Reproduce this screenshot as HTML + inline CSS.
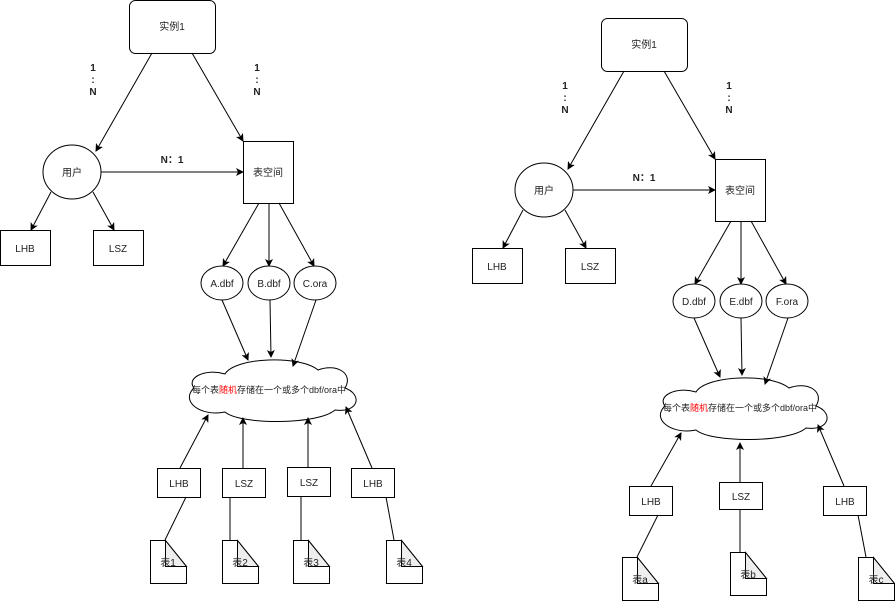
<!DOCTYPE html>
<html><head><meta charset="utf-8"><style>
html,body{margin:0;padding:0;background:#fff;}
svg{display:block;}
text{font-family:"Liberation Sans","Noto Sans CJK SC",sans-serif;font-size:10px;fill:#222;}
.b{font-weight:bold;font-size:10px;}
.c{font-size:9px;}
</style></head><body>
<svg width="895" height="603" viewBox="0 0 895 603" xmlns="http://www.w3.org/2000/svg">
<defs>
<marker id="a" markerWidth="8" markerHeight="8" refX="7" refY="4" orient="auto" markerUnits="userSpaceOnUse">
<path d="M0,0 L8,4 L0,8 L2,4 Z" fill="#000"/></marker>
<g id="top" fill="none" stroke="#000" stroke-width="1">
<rect x="129.5" y="0.5" width="86" height="53" rx="6" fill="#fff"/>
<line x1="152" y1="53" x2="96" y2="151" marker-end="url(#a)"/>
<line x1="192" y1="53" x2="243" y2="141" marker-end="url(#a)"/>
<ellipse cx="72" cy="172" rx="29" ry="27" fill="#fff"/>
<rect x="243.5" y="141.5" width="50" height="62" fill="#fff"/>
<line x1="101" y1="172" x2="243" y2="172" marker-end="url(#a)"/>
<rect x="0.5" y="230.5" width="50" height="35" fill="#fff"/>
<rect x="93.5" y="230.5" width="50" height="35" fill="#fff"/>
<line x1="51" y1="192" x2="31" y2="230" marker-end="url(#a)"/>
<line x1="93" y1="192" x2="114" y2="230" marker-end="url(#a)"/>
<line x1="259" y1="203" x2="223" y2="266" marker-end="url(#a)"/>
<line x1="269" y1="203" x2="269" y2="266" marker-end="url(#a)"/>
<line x1="279" y1="203" x2="314" y2="266" marker-end="url(#a)"/>
<ellipse cx="222" cy="283" rx="21" ry="17" fill="#fff"/>
<ellipse cx="269" cy="283" rx="21" ry="17" fill="#fff"/>
<ellipse cx="315" cy="283" rx="21" ry="17" fill="#fff"/>
</g>
<g id="toptext">
<text x="172" y="30" text-anchor="middle">实例1</text>
<text class="b" x="93" y="71" text-anchor="middle">1</text>
<text class="b" x="93" y="83" text-anchor="middle">:</text>
<text class="b" x="93" y="95" text-anchor="middle">N</text>
<text class="b" x="257" y="71" text-anchor="middle">1</text>
<text class="b" x="257" y="83" text-anchor="middle">:</text>
<text class="b" x="257" y="95" text-anchor="middle">N</text>
<text class="b" x="172" y="163" text-anchor="middle">N：1</text>
<text x="72" y="176" text-anchor="middle">用户</text>
<text x="268" y="176" text-anchor="middle">表空间</text>
<text x="25" y="252" text-anchor="middle">LHB</text>
<text x="118" y="252" text-anchor="middle">LSZ</text>
</g>
<path id="cloud" d="M194,388 C186,378 205,368 225,374 C235,357 300,355 318,370 C336,363 354,373 345,388 C362,394 360,413 335,410 C318,425 240,425 225,412 C200,417 180,401 194,388 Z" fill="#fff" stroke="#000"/>
<g id="note">
<path d="M0.5,0.5 L15.5,0.5 L36.5,26.5 L36.5,43.5 L0.5,43.5 Z" fill="#fff" stroke="#000"/>
<path d="M15.5,0.5 L15.5,26.5 L36.5,26.5 Z" fill="#eee" stroke="#000"/>
</g>
</defs>

<!-- LEFT -->
<use href="#top"/>
<use href="#toptext"/>
<text x="222" y="287" text-anchor="middle">A.dbf</text>
<text x="269" y="287" text-anchor="middle">B.dbf</text>
<text x="315" y="287" text-anchor="middle">C.ora</text>
<use href="#cloud"/>
<g fill="none" stroke="#000">
<line x1="222" y1="300" x2="248" y2="360" marker-end="url(#a)"/>
<line x1="270" y1="300" x2="271" y2="357" marker-end="url(#a)"/>
<line x1="316" y1="300" x2="293" y2="366" marker-end="url(#a)"/>
<line x1="180" y1="468" x2="208" y2="415" marker-end="url(#a)"/>
<line x1="243" y1="468" x2="243" y2="418" marker-end="url(#a)"/>
<line x1="308" y1="467" x2="308" y2="418" marker-end="url(#a)"/>
<line x1="372" y1="468" x2="346" y2="407" marker-end="url(#a)"/>
<rect x="157.5" y="468.5" width="43" height="29" fill="#fff"/>
<rect x="222.5" y="468.5" width="43" height="29" fill="#fff"/>
<rect x="287.5" y="467.5" width="43" height="29" fill="#fff"/>
<rect x="351.5" y="468.5" width="43" height="29" fill="#fff"/>
<line x1="186" y1="497" x2="165" y2="540"/>
<line x1="230" y1="497" x2="230" y2="540"/>
<line x1="301" y1="496" x2="301" y2="540"/>
<line x1="386" y1="497" x2="394" y2="540"/>
</g>
<text class="c" x="269" y="393" text-anchor="middle">每个表<tspan style="fill:#f00">随机</tspan>存储在一个或多个dbf/ora中</text>
<text x="179" y="487" text-anchor="middle">LHB</text>
<text x="244" y="487" text-anchor="middle">LSZ</text>
<text x="309" y="486" text-anchor="middle">LSZ</text>
<text x="373" y="487" text-anchor="middle">LHB</text>
<use href="#note" x="150" y="540"/>
<use href="#note" x="222" y="540"/>
<use href="#note" x="293" y="540"/>
<use href="#note" x="386" y="540"/>
<text x="168" y="566" text-anchor="middle">表1</text>
<text x="240" y="566" text-anchor="middle">表2</text>
<text x="311" y="566" text-anchor="middle">表3</text>
<text x="404" y="566" text-anchor="middle">表4</text>

<!-- RIGHT -->
<g transform="translate(472,18)">
<use href="#top"/>
<use href="#toptext"/>
<text x="222" y="287" text-anchor="middle">D.dbf</text>
<text x="269" y="287" text-anchor="middle">E.dbf</text>
<text x="315" y="287" text-anchor="middle">F.ora</text>
</g>
<use href="#cloud" transform="translate(471,18)"/>
<g fill="none" stroke="#000">
<line x1="694" y1="318" x2="720" y2="377" marker-end="url(#a)"/>
<line x1="741" y1="318" x2="742" y2="375" marker-end="url(#a)"/>
<line x1="788" y1="318" x2="765" y2="384" marker-end="url(#a)"/>
<line x1="651" y1="486" x2="681" y2="433" marker-end="url(#a)"/>
<line x1="740" y1="482" x2="740" y2="443" marker-end="url(#a)"/>
<line x1="844" y1="486" x2="818" y2="425" marker-end="url(#a)"/>
<rect x="629.5" y="486.5" width="43" height="29" fill="#fff"/>
<rect x="719.5" y="482.5" width="43" height="27" fill="#fff"/>
<rect x="823.5" y="486.5" width="43" height="29" fill="#fff"/>
<line x1="658" y1="515" x2="637" y2="557"/>
<line x1="740" y1="509" x2="740" y2="552"/>
<line x1="858" y1="515" x2="866" y2="557"/>
</g>
<text class="c" x="740" y="411" text-anchor="middle">每个表<tspan style="fill:#f00">随机</tspan>存储在一个或多个dbf/ora中</text>
<text x="651" y="505" text-anchor="middle">LHB</text>
<text x="741" y="500" text-anchor="middle">LSZ</text>
<text x="845" y="505" text-anchor="middle">LHB</text>
<use href="#note" x="622" y="557"/>
<use href="#note" x="730" y="552"/>
<use href="#note" x="858" y="557"/>
<text x="640" y="583" text-anchor="middle">表a</text>
<text x="748" y="578" text-anchor="middle">表b</text>
<text x="876" y="583" text-anchor="middle">表c</text>
</svg>
</body></html>
